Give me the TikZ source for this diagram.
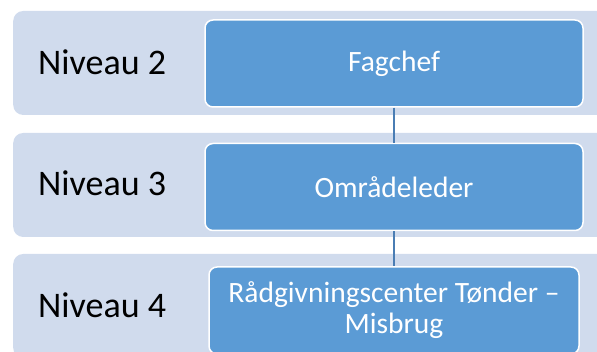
\documentclass[tikz,border=0pt]{standalone}
\usepackage{fontspec}
\setmainfont{Carlito}
\usetikzlibrary{positioning}
\definecolor{bandbg}{HTML}{D0DBED}
\definecolor{boxfill}{HTML}{5B9BD5}
\definecolor{linkcol}{HTML}{4A7DB4}

\begin{document}
\begin{tikzpicture}[
    x=1pt, y=1pt,
    node distance=35pt,
    band/.style={fill=bandbg, rounded corners=10pt, minimum width=620pt, minimum height=104pt, anchor=west, inner sep=0pt},
    unit/.style={draw=white, line width=1.5pt, fill=boxfill, rounded corners=8pt, minimum width=378pt, minimum height=87pt, text centered, text=white, font=\fontsize{29.5}{32}\selectfont},
    level/.style={font=\fontsize{36}{40}\selectfont, anchor=base west, inner sep=0pt},
    link/.style={line width=2.5pt, linkcol}
]
    \useasboundingbox (0,0) rectangle (597,352);
    % bands
    \node[band] (band2) at (13,289) {};
    \node[band] (band3) at (13,167) {};
    \node[band] (band4) at (13,46) {};
    \node[level] (lvl2) at (38,277) {Niveau 2};
    \node[level] (lvl3) at (38,156) {Niveau 3};
    \node[level] (lvl4) at (38,34) {Niveau 4};

    \node[unit] (fagchef) at (394,288.5) {Fagchef};
    \node[unit, below=of fagchef] (omraade) {Områdeleder};
    \node[unit, below=of omraade, minimum width=370pt, align=center, font=\fontsize{29.5}{31}\selectfont] (raadgiv) {Rådgivningscenter Tønder –\\Misbrug};

    \draw[link] (fagchef) -- (omraade);
    \draw[link] (omraade) -- (raadgiv);
\end{tikzpicture}
\end{document}
